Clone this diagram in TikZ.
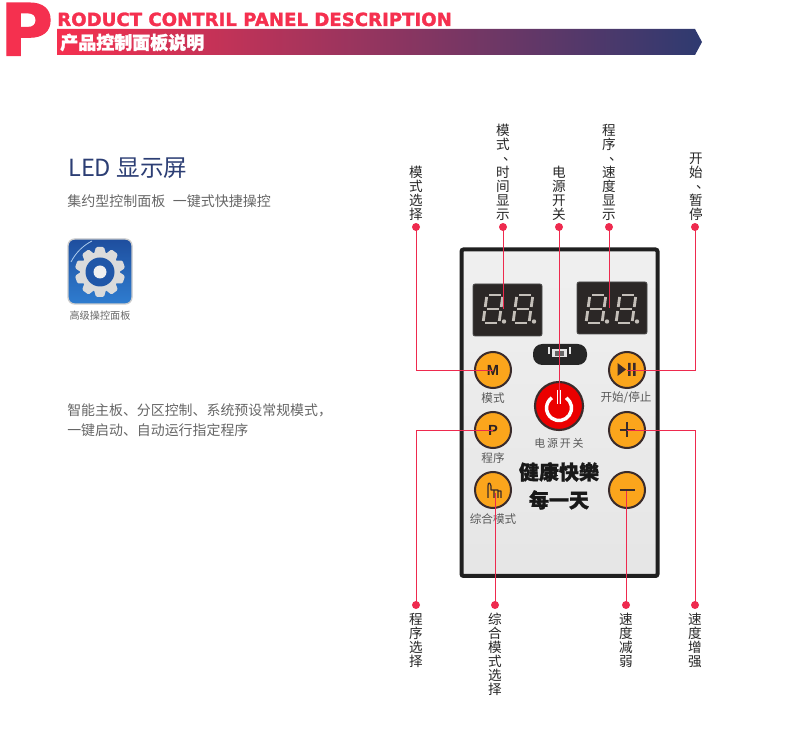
\documentclass[tikz,border=0pt]{standalone}
\usepackage{fontspec}
\setmainfont{Noto Sans CJK SC}
\newfontfamily\headfont{DejaVu Sans}[BoldFeatures={FakeBold=1.6}]
\newfontfamily\heavycjk{Noto Sans CJK SC}[BoldFeatures={FakeBold=1.5}]
\newfontfamily\keyfont{Liberation Sans}
\usetikzlibrary{positioning}

\definecolor{pinred}{HTML}{EE2A4E}
\definecolor{headred}{HTML}{F5304F}
\definecolor{barnavy}{HTML}{2E3A70}
\definecolor{keyorange}{HTML}{FBA51C}
\definecolor{keyring}{HTML}{3A2B2B}
\definecolor{ledgrey}{HTML}{C4BFB9}
\definecolor{ledback}{HTML}{2B2726}
\definecolor{ledtitle}{HTML}{2C3E74}
\definecolor{icondark}{HTML}{1E4E9E}
\definecolor{iconlight}{HTML}{2F7DD0}

\newcommand{\pxfont}[1]{\fontsize{#1}{#1}\selectfont}
\newcommand{\vdun}{\makebox[1em][l]{\hspace{.5em}\raisebox{2.5pt}[0pt][0pt]{、}}}

\newcommand{\ledeight}[2]{
\begin{scope}[shift={(#1,#2)},xslant=.14]
\foreach \ax/\ay/\bx/\by in {2/0/14/0, 2/-14/14/-14, 2/-28/14/-28, 0/-2/0/-12, 16/-2/16/-12, 0/-16/0/-26, 16/-16/16/-26}
 \draw[ledseg] (\ax,\ay) -- (\bx,\by);
\end{scope}
\fill[ledgrey] (#1+21,#2-1.5) circle (2.2);
}

\tikzset{
 pindot/.style={circle,fill=pinred,inner sep=0pt,minimum size=6pt},
 pinline/.style={draw=pinred,line width=.65pt},
 pintext/.style={anchor=south,align=center,inner sep=0pt,text=black!85,font=\pxfont{10.2},execute at begin node=\setlength{\baselineskip}{10.5pt}},
 keybtn/.style={circle,fill=keyorange,draw=keyring,line width=1.5pt,minimum size=27pt,inner sep=0pt,font=\keyfont\bfseries\pxfont{11},text=keyring!80!black},
 keytext/.style={inner sep=0pt,text=black!65,font=\pxfont{8.7}},
 ledseg/.style={draw=ledgrey,line width=2.1pt},
 ledbox/.style={fill=ledback,draw=black!70,rounded corners=1.5pt,line width=.6pt},
 slogan/.style={inner sep=0pt,text=black!90,font=\heavycjk\bfseries\pxfont{15}},
 sidetext/.style={anchor=west,inner sep=0pt,text=black!60}
}

\begin{document}
\begin{tikzpicture}[x=.75pt,y=-.75pt]
\useasboundingbox (0,0) rectangle (790,755);

% heading band
\shade[left color=headred,right color=barnavy] (57,29) -- (695,29) -- (702,42) -- (695,55) -- (57,55) -- cycle;
\node[anchor=base west,inner sep=0pt,text=headred,font=\headfont\bfseries\pxfont{54}] (bigp) at (0,55.5) {P};
\node[anchor=base west,inner sep=0pt,text=headred,font=\headfont\bfseries\pxfont{13.6}] (headline) at (57,26) {RODUCT CONTRIL PANEL DESCRIPTION};
\node[anchor=west,inner sep=0pt,text=white,font=\heavycjk\bfseries\pxfont{13.5}] (bartitle) at (60,42.5) {产品控制面板说明};

% left column
\node[sidetext,text=ledtitle,font=\pxfont{17.7}] (ledtitle) at (68,168) {LED 显示屏};
\node[sidetext,font=\pxfont{10.5}] (ledsub) at (67,201) {集约型控制面板\hspace{.55em}一键式快捷操控};

\shade[top color=icondark,bottom color=iconlight,draw=black!20,line width=1pt,rounded corners=5pt] (68,239) rectangle (132,304);
\draw[white!60!iconlight,line width=.6pt] (71,262) .. controls (76,252) and (84,245) .. (92,241);
\foreach \ang in {0,36,...,324}
 \fill[black!14,rounded corners=1pt,shift={(100,272)},rotate=\ang] (-6,-18) -- (-4,-25) -- (4,-25) -- (6,-18) -- cycle;
\fill[black!14] (100,272) circle (20);
\fill[icondark!80!iconlight] (100,272) circle (14.5);
\fill[black!6] (100,272) circle (6.5);
\node[inner sep=0pt,text=black!60,font=\pxfont{7.6}] (iconcap) at (100,315.5) {高级操控面板};

\node[sidetext,align=left,font=\pxfont{10.45},anchor=north west,execute at begin node=\setlength{\baselineskip}{15pt}] (ledbody) at (67,403) {智能主板、分区控制、系统预设常规模式，\\一键启动、自动运行指定程序};

% panel and displays
\draw[draw=black!88,top color=black!6,bottom color=black!10,line width=3pt,rounded corners=1.5pt] (461.5,249.5) rectangle (657.5,576);
\draw[ledbox] (473,284) rectangle (542,336);
\draw[ledbox] (577,282) rectangle (647,334);
\ledeight{483}{323}
\ledeight{513}{323}
\ledeight{586}{323}
\ledeight{616}{323}
\fill[black!85,rounded corners=7pt] (533,344) rectangle (587,365);
\fill[black!10] (552,349) rectangle (567,357);
\fill[black!60] (555,351) rectangle (564,356);
\draw[black!10,line width=.8pt] (549,347) -- (549,354) (570,347) -- (570,354);

% keys
\node[keybtn] (btnmode) at (493,370) {M};
\node[keybtn] (btnstart) at (627,370) {};
\node[keybtn] (btnprog) at (493,430) {P};
\node[keybtn] (btnplus) at (627,430) {};
\node[keybtn] (btnhand) at (493,490) {};
\node[keybtn] (btnminus) at (627,490) {};
\node[circle,fill=red!92!black,draw=keyring,line width=1.6pt,minimum size=36pt,inner sep=0pt] (btnpower) at (559,406) {};

\fill[keyring] (617.5,363) -- (617.5,376) -- (626,369.5) -- cycle;
\fill[keyring] (628,363) rectangle (630.5,376) (633,363) rectangle (635.5,376);
\draw[keyring,line width=1.3pt] (619.5,430) -- (634.5,430) (627,422.5) -- (627,437.5);
\draw[keyring,line width=1.3pt] (619.5,490) -- (634.5,490);
\draw[keyring,line width=.9pt,line join=round] (488,498) -- (488,486) .. controls (488,482) and (490,482) .. (491,486) -- (491,490) -- (494,490) -- (494,498) (494,490) -- (498,490) -- (498,498) (498,491) -- (501,491) -- (501,498);
\draw[white,line width=2.6pt] (566.2,397.8) arc[start angle=-55,end angle=235,radius=12.5];
\draw[white,line width=1.2pt] (557.5,390) -- (557.5,404) (560.5,390) -- (560.5,404);

\node[keytext] (txtmode) at (493,398) {模式};
\node[keytext] (txtstart) at (626,398) {开始/停止};
\node[keytext] (txtprog) at (493,458) {程序};
\node[keytext] (txthand) at (493,519) {综合模式};
\node[keytext,font=\pxfont{8.2}] (txtpower) at (559,443) {电\,源\,开\,关};
\node[slogan] (slogana) at (559,472) {健康快樂};
\node[slogan] (sloganb) at (559,500) {每一天};

% pins and their labels
\node[pindot] (dotmode) at (416,227) {};
\node[pindot] (dotclock) at (503,227) {};
\node[pindot] (dotpower) at (559,227) {};
\node[pindot] (dotspeed) at (609,227) {};
\node[pindot] (dotstart) at (695,227) {};
\node[pindot] (dotprog) at (416,605) {};
\node[pindot] (dothand) at (495,605) {};
\node[pindot] (dotminus) at (626,605) {};
\node[pindot] (dotplus) at (695,605) {};

\coordinate (endclock) at (503,309);
\coordinate (endspeed) at (609,308);
\coordinate (endhand) at (495,493);
\coordinate (endminus) at (626,491);
\coordinate (endpower) at (559,404);

\draw[pinline] (dotmode.center) |- (btnmode.center);
\draw[pinline] (dotclock.center) -- (endclock);
\draw[pinline] (dotpower.center) -- (endpower);
\draw[pinline] (dotspeed.center) -- (endspeed);
\draw[pinline] (dotstart.center) |- (btnstart.center);
\draw[pinline] (dotprog.center) |- (btnprog.center);
\draw[pinline] (dothand.center) -- (endhand);
\draw[pinline] (dotminus.center) -- (endminus);
\draw[pinline] (dotplus.center) |- (btnplus.center);

\node[pintext] (lblmode) at (416,221) {模\\式\\选\\择};
\node[pintext] (lblclock) at (503,221) {模\\式\\\vdun\\时\\间\\显\\示};
\node[pintext] (lblpower) at (559,221) {电\\源\\开\\关};
\node[pintext] (lblspeed) at (609,221) {程\\序\\\vdun\\速\\度\\显\\示};
\node[pintext] (lblstart) at (696,221) {开\\始\\\vdun\\暂\\停};

\node[pintext,anchor=north] (lblprog) at (416,613) {程\\序\\选\\择};
\node[pintext,anchor=north] (lblhand) at (495,613) {综\\合\\模\\式\\选\\择};
\node[pintext,anchor=north] (lblminus) at (626,613) {速\\度\\减\\弱};
\node[pintext,anchor=north] (lblplus) at (695,613) {速\\度\\增\\强};
\end{tikzpicture}
\end{document}
